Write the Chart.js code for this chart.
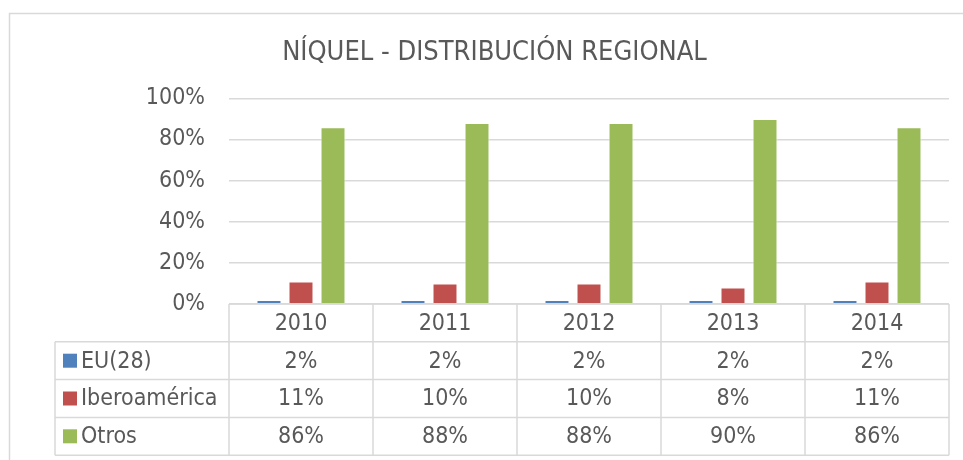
<!DOCTYPE html>
<html>
  <head>
    <meta charset="UTF-8" />
    <title>Níquel - Distribución regional</title>
    <script src="https://cdn.jsdelivr.net/npm/chart.js"></script>
    <style>
      body {
        margin: 0;
        background: #fff;
      }
      #wrap {
        width: 963px;
        height: 460px;
      }
    </style>
  </head>
  <body>
    <div id="wrap"><canvas id="chart" width="963" height="460"></canvas></div>
  </body>
  <script>
    const years = ["2010", "2011", "2012", "2013", "2014"];
    const seriesNames = ["EU(28)", "Iberoamérica", "Otros"];
    const eu = [2, 2, 2, 2, 2];
    const ibero = [11, 10, 10, 8, 11];
    const otros = [86, 88, 88, 90, 86];
    const colors = ["#4f81bd", "#c0504d", "#9bbb59"];

    const FONT = "'DejaVu Sans Condensed', 'DejaVu Sans', sans-serif";
    const TEXT = "#595959";
    const LINE = "#d9d9d9";

    // draws the data table under the plot plus the outer frame
    const dataTable = {
      id: "dataTable",
      afterDraw(chart) {
        const ctx = chart.ctx;
        const area = chart.chartArea;
        const xs = chart.scales.x;
        const left = 55;
        const top = area.bottom;
        const rowH = 37.8;
        const colW = (area.right - area.left) / years.length;
        const rows = [eu, ibero, otros];

        ctx.save();
        // frame
        ctx.strokeStyle = LINE;
        ctx.lineWidth = 1.5;
        ctx.beginPath();
        ctx.moveTo(9.5, 460);
        ctx.lineTo(9.5, 13.5);
        ctx.lineTo(963, 13.5);
        ctx.stroke();

        // grid of the table
        ctx.beginPath();
        ctx.moveTo(area.left, top);
        ctx.lineTo(area.right, top);
        for (let r = 1; r <= 4; r++) {
          ctx.moveTo(left, top + r * rowH);
          ctx.lineTo(area.right, top + r * rowH);
        }
        ctx.moveTo(left, top + rowH);
        ctx.lineTo(left, top + 4 * rowH);
        for (let c = 0; c <= years.length; c++) {
          const x = area.left + c * colW;
          ctx.moveTo(x, top);
          ctx.lineTo(x, top + 4 * rowH);
        }
        ctx.stroke();

        ctx.fillStyle = TEXT;
        ctx.font = "23px " + FONT;
        ctx.textAlign = "center";
        ctx.textBaseline = "middle";
        years.forEach((y, i) => {
          ctx.fillText(y, xs.getPixelForValue(i), top + rowH / 2 + 1);
        });
        rows.forEach((vals, r) => {
          const cy = top + (r + 1.5) * rowH + 1;
          vals.forEach((v, i) => {
            ctx.fillStyle = TEXT;
            ctx.textAlign = "center";
            ctx.fillText(v + "%", xs.getPixelForValue(i), cy);
          });
          ctx.fillStyle = colors[r];
          ctx.fillRect(63, cy - 8, 14, 14);
          ctx.fillStyle = TEXT;
          ctx.textAlign = "left";
          ctx.fillText(seriesNames[r], 81, cy);
        });
        ctx.restore();
      },
    };

    new Chart(document.getElementById("chart"), {
      type: "bar",
      data: {
        labels: years,
        datasets: [eu, ibero, otros].map((d, i) => ({
          label: seriesNames[i],
          data: d,
          backgroundColor: colors[i],
          borderColor: "rgba(255,255,255,0.6)",
          borderWidth: 1,
          categoryPercentage: 0.667,
          barPercentage: 0.78,
        })),
      },
      options: {
        responsive: false,
        animation: false,
        layout: { padding: { top: 0, bottom: 156, right: 14, left: 40 } },
        plugins: {
          legend: { display: false },
          tooltip: { enabled: false },
          title: {
            display: true,
            text: "NÍQUEL - DISTRIBUCIÓN REGIONAL",
            color: TEXT,
            font: { family: FONT, size: 27, weight: "normal" },
            padding: { top: 37, bottom: 29 },
          },
        },
        scales: {
          x: { display: false },
          y: {
            min: 0,
            max: 100,
            afterFit(scale) {
              scale.width = 189;
            },
            border: { display: false },
            grid: { color: LINE, lineWidth: 1.5, drawTicks: false },
            ticks: {
              stepSize: 20,
              padding: 24,
              color: TEXT,
              font: { family: FONT, size: 23 },
              callback: (v) => v + "%",
            },
          },
        },
      },
      plugins: [dataTable],
    });
  </script>
</html>
